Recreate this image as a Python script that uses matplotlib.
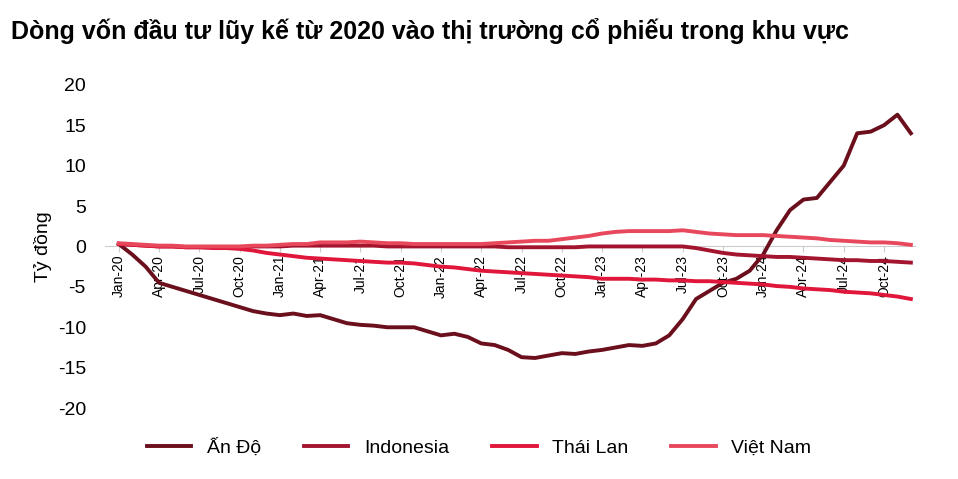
import numpy as np
import matplotlib.pyplot as plt

# Monthly cumulative flows, Jan-2020 .. Dec-2024 (ty dong)
months = [f"{m}-{y}" for y in range(20, 25) for m in
          ["Jan", "Feb", "Mar", "Apr", "May", "Jun", "Jul", "Aug", "Sep", "Oct", "Nov", "Dec"]]

an_do = [0.3, -1.0, -2.5, -4.5, -5.0, -5.5, -6.0, -6.5, -7.0, -7.5, -8.0, -8.3,
         -8.5, -8.3, -8.6, -8.5, -9.0, -9.5, -9.7, -9.8, -10.0, -10.0, -10.0, -10.5,
         -11.0, -10.8, -11.2, -12.0, -12.2, -12.8, -13.7, -13.8, -13.5, -13.2, -13.3, -13.0,
         -12.8, -12.5, -12.2, -12.3, -12.0, -11.0, -9.0, -6.5, -5.5, -4.5, -4.0, -3.0,
         -1.0, 2.0, 4.5, 5.8, 6.0, 8.0, 10.0, 14.0, 14.2, 15.0, 16.3, 14.0]
indonesia = [0.3, 0.2, 0.1, 0.0, 0.0, -0.1, -0.1, -0.1, -0.1, -0.1, 0.0, 0.0,
             0.0, 0.1, 0.1, 0.1, 0.1, 0.1, 0.1, 0.1, 0.0, 0.0, 0.0, 0.0,
             0.0, 0.0, 0.0, 0.0, 0.0, -0.1, -0.1, -0.1, -0.1, -0.1, -0.1, 0.0,
             0.0, 0.0, 0.0, 0.0, 0.0, 0.0, 0.0, -0.2, -0.5, -0.8, -1.0, -1.1,
             -1.2, -1.3, -1.3, -1.4, -1.5, -1.6, -1.7, -1.7, -1.8, -1.8, -1.9, -2.0]
thai_lan = [0.3, 0.2, 0.1, 0.0, 0.0, -0.1, -0.1, -0.2, -0.2, -0.3, -0.5, -0.8,
            -1.0, -1.2, -1.4, -1.5, -1.6, -1.7, -1.8, -1.9, -2.0, -2.0, -2.1, -2.3,
            -2.5, -2.6, -2.8, -3.0, -3.1, -3.2, -3.3, -3.4, -3.5, -3.6, -3.7, -3.8,
            -4.0, -4.0, -4.0, -4.1, -4.1, -4.2, -4.2, -4.3, -4.3, -4.4, -4.5, -4.6,
            -4.7, -4.9, -5.0, -5.2, -5.3, -5.4, -5.6, -5.7, -5.8, -6.0, -6.2, -6.5]
viet_nam = [0.4, 0.3, 0.2, 0.1, 0.1, 0.0, 0.0, 0.0, 0.0, 0.0, 0.1, 0.1,
            0.2, 0.3, 0.3, 0.5, 0.5, 0.5, 0.6, 0.5, 0.4, 0.4, 0.3, 0.3,
            0.3, 0.3, 0.3, 0.3, 0.4, 0.5, 0.6, 0.7, 0.7, 0.9, 1.1, 1.3,
            1.6, 1.8, 1.9, 1.9, 1.9, 1.9, 2.0, 1.8, 1.6, 1.5, 1.4, 1.4,
            1.4, 1.3, 1.2, 1.1, 1.0, 0.8, 0.7, 0.6, 0.5, 0.5, 0.4, 0.2]

series = [("Ấn Độ", an_do, "#6b0f1c"), ("Indonesia", indonesia, "#a3142e"),
          ("Thái Lan", thai_lan, "#e0163a"), ("Việt Nam", viet_nam, "#e8485c")]

plt.rcParams["font.family"] = ["Liberation Sans", "DejaVu Sans"]
plt.rcParams["axes.unicode_minus"] = False

fig = plt.figure(figsize=(9.58, 4.79), dpi=100)
ax = fig.add_axes([0.11, 0.148, 0.845, 0.675])
x = np.arange(len(months))
for name, vals, col in series:
    ax.plot(x, vals, color=col, lw=2.8, label=name)

ax.set_xlim(-1, 59.3)
ax.set_ylim(-20, 20)
ax.set_yticks(range(-20, 25, 5))
ax.tick_params(axis="y", length=0, labelsize=14, pad=14)
ax.set_xticks(x[::3])
ax.set_xticklabels(months[::3], fontsize=13)
ax.tick_params(axis="x", length=4, color="#cccccc", pad=2, labelrotation=90)
for s in ["top", "right", "left"]:
    ax.spines[s].set_visible(False)
ax.spines["bottom"].set_position(("data", 0))
ax.spines["bottom"].set_color("#cccccc")
ax.spines["bottom"].set_zorder(0)
ax.set_ylabel("Tỷ đồng", fontsize=14, labelpad=4)

fig.legend(loc="lower center", bbox_to_anchor=(0.5, 0.01), ncol=4, frameon=False,
           fontsize=14, handlelength=2.3, columnspacing=2.2)
fig.text(0.012, 0.935, "Dòng vốn đầu tư lũy kế từ 2020 vào thị trường cổ phiếu trong khu vực",
         fontsize=18, fontweight="bold", va="center")
fig.savefig("out.png", dpi=100)
